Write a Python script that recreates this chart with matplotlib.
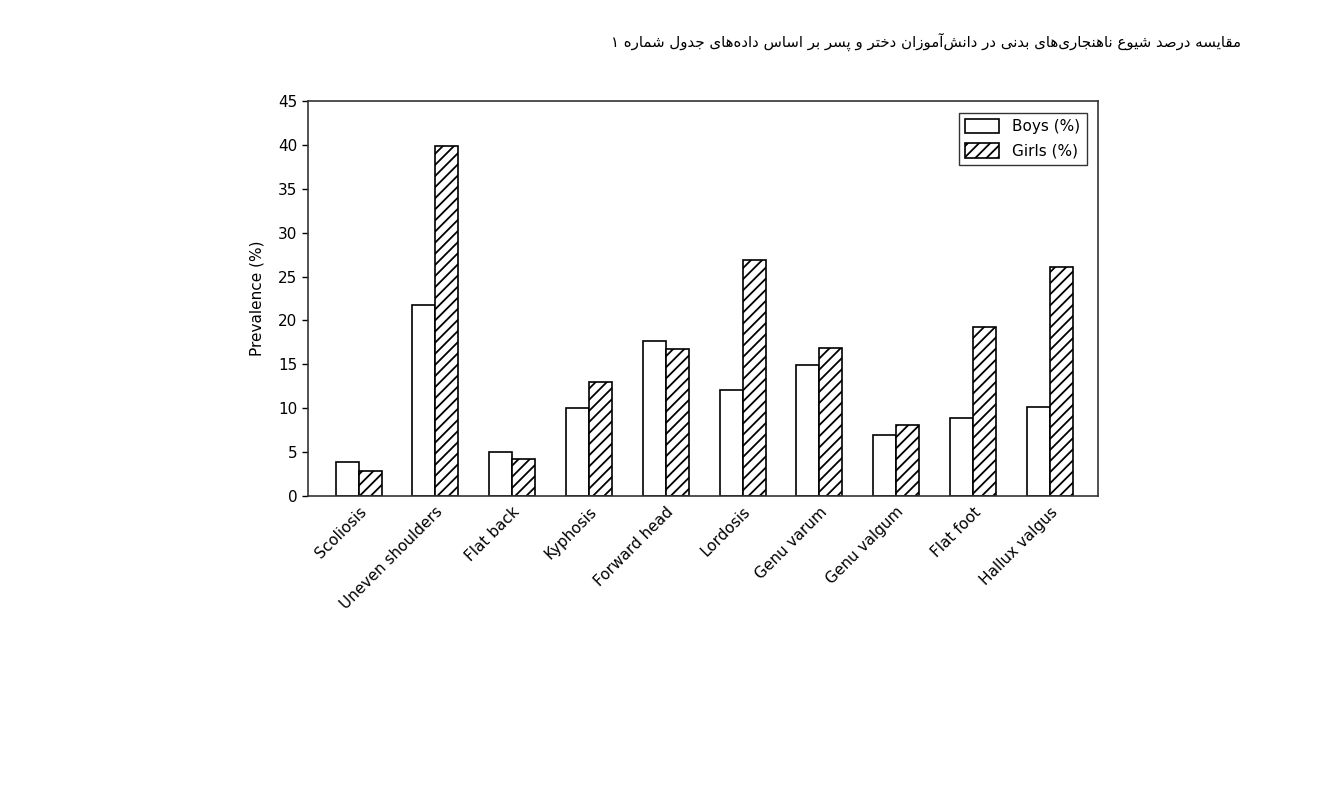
import numpy as np
import matplotlib
matplotlib.use("Agg")
from matplotlib import pyplot as plt

categories = ["Scoliosis", "Uneven shoulders", "Flat back", "Kyphosis", "Forward head",
              "Lordosis", "Genu varum", "Genu valgum", "Flat foot", "Hallux valgus"]
boys = [3.9, 21.8, 5.0, 10.0, 17.7, 12.1, 14.9, 7.0, 8.9, 10.1]
girls = [2.9, 39.9, 4.2, 13.0, 16.8, 26.9, 16.9, 8.1, 19.3, 26.1]
yticks = list(range(0, 50, 5))
title = "مقایسه درصد شیوع ناهنجاری\u200cهای بدنی در دانش\u200cآموزان دختر و پسر بر اساس داده\u200cهای جدول شماره ۱"

# presentation forms: isolated, final, initial, medial
forms = {
    "ا": ("\uFE8D", "\uFE8E", None, None),
    "آ": ("\uFE81", "\uFE82", None, None),
    "د": ("\uFEA9", "\uFEAA", None, None),
    "ر": ("\uFEAD", "\uFEAE", None, None),
    "ز": ("\uFEAF", "\uFEB0", None, None),
    "و": ("\uFEED", "\uFEEE", None, None),
    "ب": ("\uFE8F", "\uFE90", "\uFE91", "\uFE92"),
    "پ": ("\uFB56", "\uFB57", "\uFB58", "\uFB59"),
    "ت": ("\uFE95", "\uFE96", "\uFE97", "\uFE98"),
    "ج": ("\uFE9D", "\uFE9E", "\uFE9F", "\uFEA0"),
    "خ": ("\uFEA5", "\uFEA6", "\uFEA7", "\uFEA8"),
    "س": ("\uFEB1", "\uFEB2", "\uFEB3", "\uFEB4"),
    "ش": ("\uFEB5", "\uFEB6", "\uFEB7", "\uFEB8"),
    "ص": ("\uFEB9", "\uFEBA", "\uFEBB", "\uFEBC"),
    "ع": ("\uFEC9", "\uFECA", "\uFECB", "\uFECC"),
    "ق": ("\uFED5", "\uFED6", "\uFED7", "\uFED8"),
    "ل": ("\uFEDD", "\uFEDE", "\uFEDF", "\uFEE0"),
    "م": ("\uFEE1", "\uFEE2", "\uFEE3", "\uFEE4"),
    "ن": ("\uFEE5", "\uFEE6", "\uFEE7", "\uFEE8"),
    "ه": ("\uFEE9", "\uFEEA", "\uFEEB", "\uFEEC"),
    "ی": ("\uFBFC", "\uFBFD", "\uFBFE", "\uFBFF"),
}


def shape(s):
    out = []
    for i, c in enumerate(s):
        if c not in forms:
            if c != "\u200c":
                out.append(c)
            continue
        prev = s[i - 1] if i > 0 else ""
        nxt = s[i + 1] if i + 1 < len(s) else ""
        jp = prev in forms and forms[prev][2] is not None
        jn = forms[c][2] is not None and nxt in forms
        f = forms[c]
        if jp and jn:
            out.append(f[3])
        elif jp:
            out.append(f[1])
        elif jn:
            out.append(f[2])
        else:
            out.append(f[0])
    return "".join(out[::-1])


plt.rcParams['font.family'] = ['DejaVu Sans']
plt.rcParams['hatch.linewidth'] = 1.3
fig = plt.figure(figsize=(13.34, 7.92), dpi=100)
ax = fig.add_axes([0.2309, 0.3737, 0.5922, 0.4987])

x = np.arange(len(categories))
w = 0.3
ax.bar(x - w / 2, boys, w, color="white", edgecolor="black", linewidth=1.2, label="Boys (%)")
ax.bar(x + w / 2, girls, w, color="white", edgecolor="black", linewidth=1.2, hatch="///", label="Girls (%)")

ax.set_xlim(-0.66, 9.63)
ax.set_ylim(0, 45)
ax.set_yticks(yticks)
ax.set_xticks(x)
ax.set_xticklabels(categories, rotation=45, ha="right", rotation_mode="anchor", fontsize=11)
ax.tick_params(axis="x", length=0, pad=6)
ax.tick_params(axis="y", labelsize=11, length=4, width=1)
ax.set_ylabel("Prevalence (%)", fontsize=11, labelpad=10)
for sp in ax.spines.values():
    sp.set_linewidth(1.2)
    sp.set_color("#333333")

leg = ax.legend(loc="upper right", fontsize=11, fancybox=False, edgecolor="black",
                handlelength=2.2, handleheight=1.1, handletextpad=0.9,
                labelspacing=0.6, borderaxespad=0.75)
leg.get_frame().set_linewidth(1.0)

fig.text(0.93, 0.947, shape(title), ha="right", va="center", fontsize=10.8)

fig.savefig("out.png", dpi=100)
